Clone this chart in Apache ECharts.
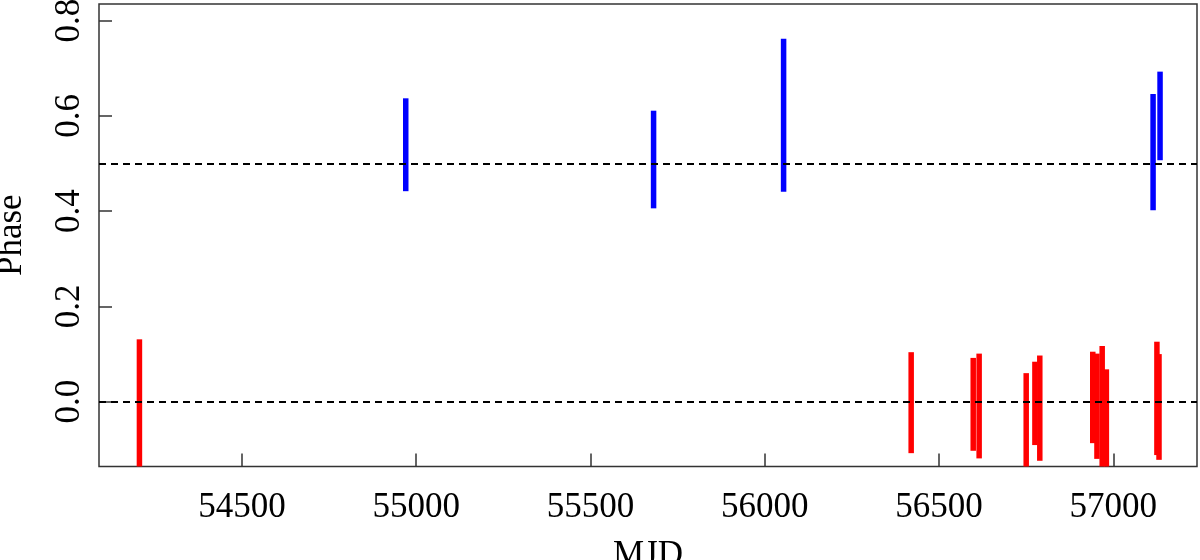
<!DOCTYPE html>
<html>
<head>
<meta charset="utf-8">
<script src="https://cdn.jsdelivr.net/npm/echarts@6/dist/echarts.min.js"></script>
<style>
html,body{margin:0;padding:0;background:#fff;}
#chart{width:1200px;height:560px;}
</style>
</head>
<body>
<div id="chart"></div>
<script>
// ---- data ----
const xTicks = [54500, 55000, 55500, 56000, 56500, 57000];
const yTicks = [0.0, 0.2, 0.4, 0.6, 0.8];
const refLines = [0.0, 0.5];

const redMjd  = [54206, 56420, 56598, 56615, 56750, 56775, 56789, 56941, 56953, 56968, 56980, 57125, 57131];
const redLow  = [-0.16, -0.108, -0.103, -0.119, -0.16, -0.091, -0.124, -0.087, -0.120, -0.16, -0.16, -0.112, -0.122];
const redHigh = [0.131, 0.104, 0.092, 0.101, 0.060, 0.084, 0.097, 0.105, 0.101, 0.117, 0.068, 0.126, 0.100];

const blueMjd  = [54970, 55681, 56054, 57114, 57134];
const blueLow  = [0.442, 0.406, 0.441, 0.402, 0.507];
const blueHigh = [0.637, 0.611, 0.762, 0.646, 0.693];

const xMin = 54090, xMax = 57240;
const yMin = -0.136, yMax = 0.835;

function toRows(m, lo, hi){ return m.map((v,i)=>[v, lo[i], hi[i]]); }

function makeRender(color){
  return function(params, api){
    const x = api.value(0), lo = api.value(1), hi = api.value(2);
    const cs = params.coordSys;
    const pHi = api.coord([x, hi]);
    const pLo = api.coord([x, lo]);
    let y1 = Math.max(pHi[1], cs.y);
    let y2 = Math.min(pLo[1], cs.y + cs.height);
    const w = 5.5;
    return {type:'rect', shape:{x:pHi[0]-w/2, y:y1, width:w, height:y2-y1}, style:{fill:color}};
  };
}

const font = 'Liberation Serif';
const chart = echarts.init(document.getElementById('chart'), null, {renderer:'canvas'});
chart.setOption({
  animation:false,
  backgroundColor:'#fff',
  grid:{left:99, right:3, top:4, bottom:93.5, outerBoundsMode:'none', containLabel:false, show:true, borderColor:'#333', borderWidth:1.5, backgroundColor:'transparent'},
  xAxis:{
    type:'value', min:xMin, max:xMax,
    name:'MJD', nameLocation:'middle', nameGap:72, nameMoveOverlap:false,
    nameTextStyle:{fontFamily:font, fontSize:35, color:'#000'},
    axisLine:{show:false, onZero:false},
    axisTick:{show:true, inside:true, length:13, customValues:xTicks, lineStyle:{color:'#333', width:1.5}},
    axisLabel:{customValues:xTicks, formatter:v=>String(v), fontFamily:font, fontSize:35, color:'#000', margin:24},
    splitLine:{show:false}
  },
  yAxis:{
    type:'value', min:yMin, max:yMax,
    name:'Phase', nameLocation:'middle', nameGap:70, nameRotate:90, nameMoveOverlap:false,
    nameTextStyle:{fontFamily:font, fontSize:35, color:'#000'},
    axisLine:{show:false, onZero:false},
    axisTick:{show:true, inside:true, length:13, customValues:yTicks, lineStyle:{color:'#333', width:1.5}},
    axisLabel:{customValues:yTicks, rotate:90, formatter:v=>v.toFixed(1), fontFamily:font, fontSize:35, color:'#000', margin:12},
    splitLine:{show:false}
  },
  series:[
    {
      type:'custom', name:'ref', data:[], renderItem:()=>null,
      markLine:{silent:true, symbol:['none','none'], label:{show:false},
        lineStyle:{color:'#000', type:[7,5], width:2},
        data:refLines.map(v=>({yAxis:v}))}
    },
    {type:'custom', name:'red', data:toRows(redMjd, redLow, redHigh), renderItem:makeRender('#ff0000'), encode:{x:0, y:[1,2]}},
    {type:'custom', name:'blue', data:toRows(blueMjd, blueLow, blueHigh), renderItem:makeRender('#0000ff'), encode:{x:0, y:[1,2]}}
  ]
});
</script>
</body>
</html>
